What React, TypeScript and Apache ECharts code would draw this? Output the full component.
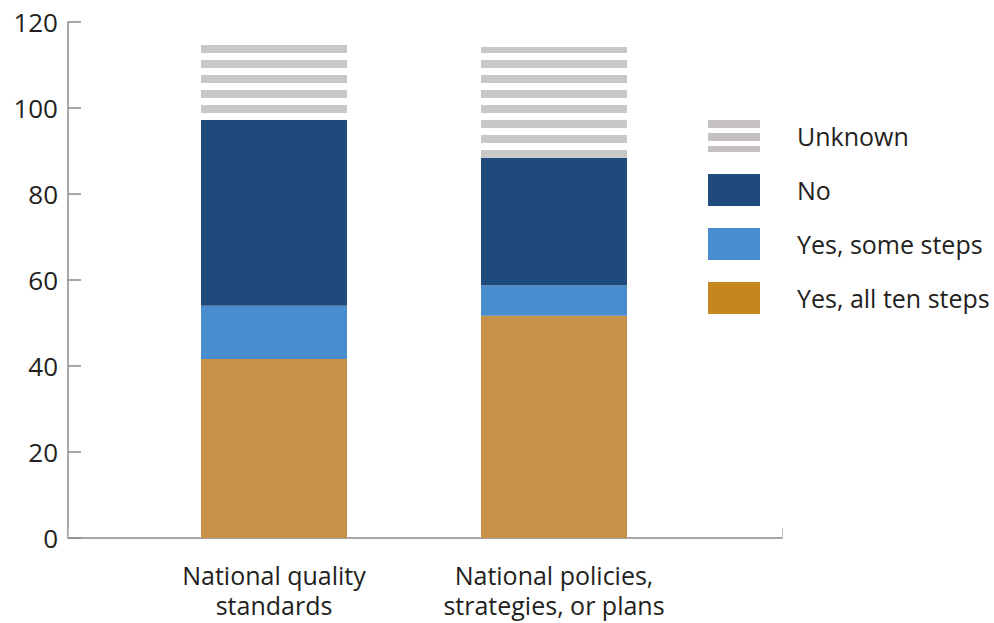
import React, { useEffect, useRef } from "react";
import * as echarts from "echarts";

const categories = ["National quality\nstandards", "National policies,\nstrategies, or plans"];
const yesAllTen = [41.6, 51.7];
const yesSome = [12.4, 7.0];
const noValues = [43.2, 29.8];
const unknownValues = [18.6, 25.7];
const legendNames = ["Unknown", "No", "Yes, some steps", "Yes, all ten steps"];
const yTicks = { min: 0, max: 120, interval: 20 };

const FONT = "Open Sans";
const TEXT = "#231f20";

export default function App() {
  const ref = useRef<HTMLDivElement>(null);
  useEffect(() => {
    if (!ref.current) return;
    const chart = echarts.init(ref.current, null, { renderer: "svg" });
    const barW = 146;
    const legendColors: Record<string, any> = {
      Unknown: {
        color: "#ffffff",
        decal: {
          symbol: "rect",
          symbolSize: 1,
          symbolKeepAspect: false,
          dashArrayX: [20, 0],
          dashArrayY: [7.5, 4.5],
          rotation: 0,
          color: "#c5c0c2",
          backgroundColor: "#ffffff",
        },
      },
      No: { color: "#1f4a7c" },
      "Yes, some steps": { color: "#4a8dcf" },
      "Yes, all ten steps": { color: "#c4861f" },
    };
    chart.setOption({
      animation: false,
      backgroundColor: "#ffffff",
      textStyle: { fontFamily: FONT },
      legend: {
        orient: "vertical",
        left: 708,
        top: 120,
        padding: 0,
        itemWidth: 52,
        itemHeight: 32,
        itemGap: 22,
        icon: "rect",
        selectedMode: false,
        data: legendNames.map((n) => ({ name: n, icon: "rect", itemStyle: legendColors[n] })),
        textStyle: { fontSize: 25, color: TEXT, fontFamily: FONT, padding: [0, 0, 0, 32] },
      },
      grid: [
        { left: 68, top: 22, width: 714, height: 516, containLabel: false },
        { left: 134, top: 22, width: 560, height: 516, containLabel: false },
      ],
      xAxis: [
        {
          gridIndex: 0,
          type: "value",
          min: 0,
          max: 1,
          interval: 1,
          axisLine: { show: true, lineStyle: { color: "#8a8a8a", width: 1.5 } },
          axisTick: { show: true, inside: true, length: 10, lineStyle: { color: "#bdbdbd" } },
          axisLabel: { show: false },
          splitLine: { show: false },
        },
        {
          gridIndex: 1,
          type: "category",
          data: categories,
          axisLine: { show: false },
          axisTick: { show: false },
          axisLabel: {
            fontSize: 25,
            lineHeight: 30,
            color: TEXT,
            fontFamily: FONT,
            margin: 22,
            interval: 0,
          },
        },
      ],
      yAxis: [
        {
          gridIndex: 0,
          type: "value",
          min: yTicks.min,
          max: yTicks.max,
          interval: yTicks.interval,
          axisLine: { show: true, lineStyle: { color: "#8a8a8a", width: 1.5 } },
          axisTick: { show: true, inside: true, length: 13, lineStyle: { color: "#8a8a8a", width: 1.5 } },
          axisLabel: { fontSize: 26, color: TEXT, fontFamily: FONT, margin: 10 },
          splitLine: { show: false },
        },
        {
          gridIndex: 1,
          type: "value",
          min: yTicks.min,
          max: yTicks.max,
          show: false,
        },
      ],
      series: [
        {
          name: "Yes, all ten steps",
          type: "bar",
          stack: "s",
          xAxisIndex: 1,
          yAxisIndex: 1,
          barWidth: barW,
          data: yesAllTen,
          itemStyle: { color: "#c8914a" },
        },
        {
          name: "Yes, some steps",
          type: "bar",
          stack: "s",
          xAxisIndex: 1,
          yAxisIndex: 1,
          barWidth: barW,
          data: yesSome,
          itemStyle: { color: "#4a8dcf" },
        },
        {
          name: "No",
          type: "bar",
          stack: "s",
          xAxisIndex: 1,
          yAxisIndex: 1,
          barWidth: barW,
          data: noValues,
          itemStyle: { color: "#1f4a7c" },
        },
        {
          name: "Unknown",
          type: "bar",
          stack: "s",
          xAxisIndex: 1,
          yAxisIndex: 1,
          barWidth: barW,
          data: unknownValues,
          itemStyle: {
            color: "#ffffff",
            decal: {
              symbol: "rect",
              symbolSize: 1,
              symbolKeepAspect: false,
              dashArrayX: [20, 0],
              dashArrayY: [8, 7],
              rotation: 0,
              color: "#c8c8c8",
              backgroundColor: "#ffffff",
            },
          },
        },
      ],
    });
    return () => chart.dispose();
  }, []);
  return <div ref={ref} style={{ width: 994, height: 623, position: "absolute", left: 0, top: 0 }} />;
}
